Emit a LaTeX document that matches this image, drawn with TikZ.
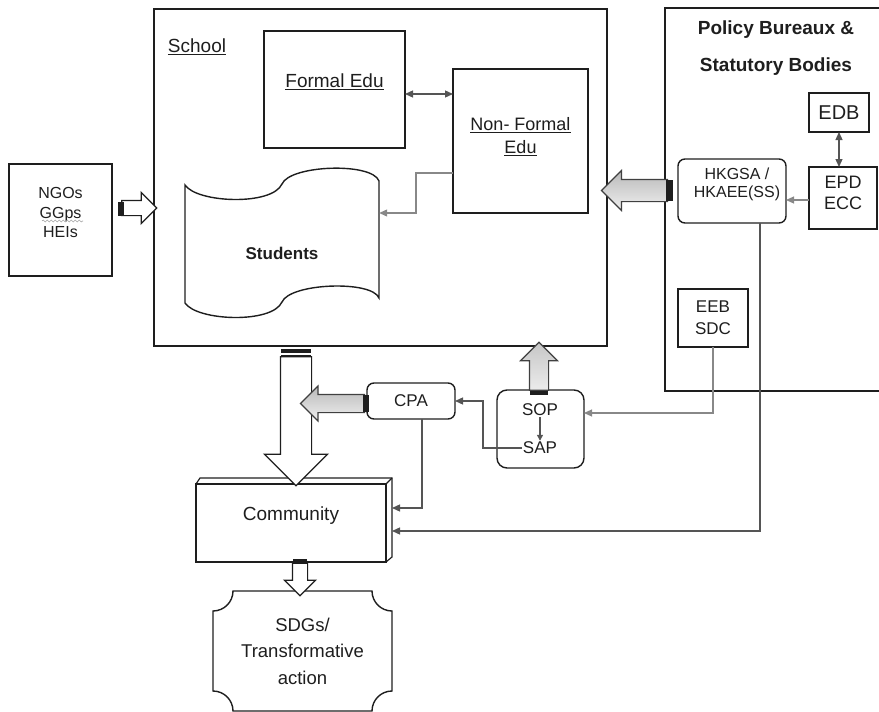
\documentclass[tikz,border=0pt]{standalone}
\usepackage{fontspec}
\setmainfont{Liberation Sans}
\usetikzlibrary{shapes.arrows,arrows.meta,calc,decorations.pathmorphing,positioning}
\definecolor{ink}{HTML}{1E1E1E}
\definecolor{conn}{HTML}{555555}
\definecolor{lconn}{HTML}{888888}

\begin{document}
\begin{tikzpicture}[x=1pt,y=-1pt,
	box/.style={draw=ink,line width=1.4pt,inner sep=0pt,outer sep=0pt},
	rbox/.style={box,rounded corners=7pt},
	txt/.style={text=ink,font=\fontsize{19}{23}\selectfont,align=center},
	conn/.style={draw=conn,line width=1.3pt,-{Triangle[length=8pt,width=7pt]}},
	conntwo/.style={draw=conn,line width=1.3pt,{Triangle[length=8pt,width=7pt]}-{Triangle[length=8pt,width=7pt]}},
	lconn/.style={draw=lconn,line width=1.1pt,-{Triangle[length=8pt,width=7pt]}},
	warr/.style={single arrow,draw=ink,fill=white,line width=1.2pt,inner xsep=0pt},
	garr/.style={single arrow,draw=ink!85,line width=1.1pt,inner xsep=0pt},
	]
	\useasboundingbox (0,0) rectangle (879,712);
	
	% school and what is inside it
	\node[box,minimum width=453,minimum height=337] (school) at (380.5,177.5) {};
	\node[txt] (schlbl) at (197,47) {\underline{School}};
	\node[box,minimum width=141,minimum height=117,
		label={[txt,yshift=7.5]center:\underline{Formal Edu}}] (fe) at (334.5,89.5) {};
	\node[box,line width=1.8pt,minimum width=135,minimum height=144,
		label={[txt,font=\fontsize{18}{23}\selectfont,yshift=4]center:\underline{Non- Formal}\\\underline{Edu}}] (nfe) at (520.5,141) {};
	\node[minimum width=194,minimum height=147,inner sep=0pt,
		label={[txt,font=\fontsize{17}{20}\selectfont\bfseries,yshift=-9.5]center:Students}] (stu) at (282,243.5) {};
	\draw[ink,line width=1.4pt] (185,185) .. controls (197,203) and (272,206) .. (282,184)
		.. controls (290,165) and (372,162) .. (379,181) -- (379,298)
		.. controls (372,280) and (290,283) .. (282,302)
		.. controls (272,324) and (197,321) .. (185,303) -- cycle;
	
	% partners on the left
	\node[box,minimum width=103,minimum height=112,
		label={[txt,font=\fontsize{16}{19.5}\selectfont,yshift=7.5]center:NGOs\\GGps\\HEIs}] (ngo) at (60.5,220) {};
	\draw[gray!70,line width=0.6pt,decorate,decoration={snake,amplitude=1pt,segment length=4pt}] (42,221) -- (83,221);
	
	% policy bureaux
	\draw[ink,line width=1.4pt] (879,8) -- (665,8) -- (665,391) -- (879,391);
	\node[txt,font=\fontsize{19}{37}\selectfont\bfseries] (pbt) at (776,48.5) {Policy Bureaux \&\\Statutory Bodies};
	\node[box,line width=1.2pt,minimum width=60,minimum height=39,txt,font=\fontsize{20}{23}\selectfont] (edb) at (839,112.5) {EDB};
	\node[box,minimum width=68,minimum height=62,
		label={[txt,font=\fontsize{18}{21}\selectfont,yshift=5]center:EPD\\ECC}] (epd) at (843,198) {};
	\node[rbox,minimum width=108,minimum height=64,
		label={[txt,font=\fontsize{16}{18}\selectfont,xshift=5,yshift=7]center:HKGSA /\\HKAEE(SS)}] (hk) at (732,191) {};
	\node[box,minimum width=70,minimum height=58,txt,font=\fontsize{17}{22}\selectfont] (eeb) at (713,318) {EEB\\SDC};
	
	% below the school
	\node[rbox,minimum width=88,minimum height=36,txt,font=\fontsize{17}{20}\selectfont] (cpa) at (411,401) {CPA};
	\node[rbox,rounded corners=10pt,minimum width=87,minimum height=78] (sopbox) at (540.5,429) {};
	\node[txt,font=\fontsize{17}{20}\selectfont,inner sep=1pt] (sop) at (540,410) {SOP};
	\node[txt,font=\fontsize{17}{20}\selectfont,inner sep=1pt] (sap) at (540,448) {SAP};
	\node[box,minimum width=190,minimum height=78,
		label={[txt,yshift=7]center:Community}] (com) at (291,523) {};
	\draw[ink,line width=1.2pt] (com.north west) -- ++(4,-6) -- ($(com.north east)+(6,-6)$)
		-- ($(com.south east)+(6,-5)$) -- (com.south east);
	\draw[ink,line width=1.2pt] (com.north east) -- ++(6,-6);
	\coordinate (comr) at ($(com.east)+(6,0)$);
	\node[minimum width=179,minimum height=120,inner sep=0pt,txt,font=\fontsize{18.5}{26.5}\selectfont] (sdg) at (302.5,651) {SDGs/\\Transformative\\action};
	\draw[ink,line width=1.4pt] (233,591) -- (372,591) .. controls (372,602) and (381,611) .. (392,611)
		-- (392,691) .. controls (381,691) and (372,700) .. (372,711)
		-- (233,711) .. controls (233,700) and (224,691) .. (213,691)
		-- (213,611) .. controls (224,611) and (233,602) .. (233,591) -- cycle;
	
	% thin connectors
	\draw[conntwo] (fe.east |- 0,94) -- (nfe.west |- 0,94);
	\draw[lconn] (nfe.west |- 0,173) -| (416,213) -- (stu.east |- 0,213);
	\draw[conntwo] (edb.south) -- (edb.south |- epd.north);
	\draw[lconn] (epd.west |- 0,200) -- (hk.east |- 0,200);
	\draw[conn] (hk.south -| 760,0) |- (comr |- 0,531);
	\draw[lconn] (eeb.south) |- (sopbox.east |- 0,413);
	\draw[conn] (sap.west) -| ($(cpa.east)+(28,0)$) -- (cpa.east);
	\draw[conn] (cpa.south -| 422,0) |- (comr |- 0,508);
	\draw[conn,-{Triangle[length=6pt,width=6pt]}] (sop.south) -- (sap.north);
	
	% block arrows
	\node[warr,minimum height=35,minimum width=30,inner ysep=7,single arrow head extend=8] (ngoarr) at (135.5,208) {};
	\fill[ink] (118,202) rectangle (124,216);
	\node[warr,rotate=-90,minimum height=129,minimum width=62,inner ysep=15,single arrow head extend=16] (schoolarr) at (296,413.5) {};
	\fill[ink] (281,349) rectangle (311,353);
	\draw[ink,line width=1.2pt] (281,355.5) -- (311,355.5);
	\node[garr,rotate=180,top color=gray!55,bottom color=gray!12,minimum height=64,minimum width=34,inner ysep=8.5,single arrow head extend=8.5] (cpaarr) at (337,403.5) {};
	\fill[ink] (363,395) rectangle (369,412);
	\node[garr,rotate=180,top color=gray!55,bottom color=gray!12,minimum height=66,minimum width=39,inner ysep=10.5,single arrow head extend=9] (hkarr) at (640,190.5) {};
	\fill[ink] (666,180) rectangle (673,201);
	\node[garr,rotate=90,top color=gray!45,bottom color=gray!15,minimum height=48,minimum width=36,inner ysep=9,single arrow head extend=9] (soparr) at (539,371) {};
	\fill[ink] (530,391) rectangle (548,395);
	\node[warr,rotate=-90,minimum height=33,minimum width=30,inner ysep=7,single arrow head extend=8] (comarr) at (300,575.5) {};
	\fill[ink] (293,559) rectangle (307,564);
\end{tikzpicture}
\end{document}
